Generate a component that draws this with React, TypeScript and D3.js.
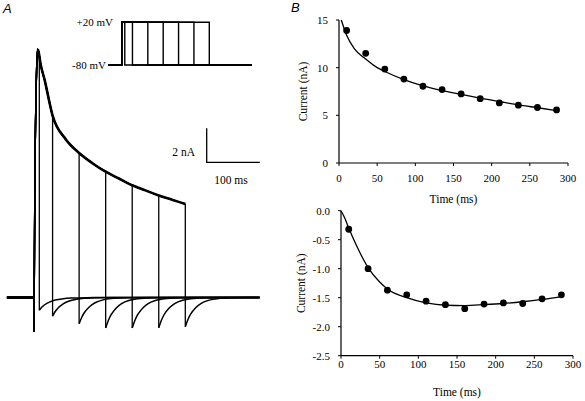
import React from "react";
import * as d3 from "d3";

// ---------- Panel A data ----------
const pulseDurations = [10, 35, 85, 135, 185, 235, 285]; // ms
const tailAmplitudes = [0.75, 1.1, 1.55, 1.8, 1.8, 1.78, 1.72]; // nA (inward tail peaks)
const envelopeTimes = [0, 1.5, 5, 7, 9, 12, 20, 35, 60, 85, 110, 135, 160, 185, 210, 235, 260, 285];
const envelopeCurrent = [-2, 6, 13.5, 14.6, 14.4, 13.8, 12.8, 10.7, 9.3, 8.5, 7.9, 7.4, 7.0, 6.6, 6.3, 6.0, 5.75, 5.5];
const tailShapeTimes = [0, 5, 10, 20, 30, 45, 60, 90, 130];
const tailShapeFraction = [1, 0.75, 0.57, 0.34, 0.2, 0.09, 0.04, 0.01, 0];

// ---------- Panel B data ----------
const sampleTimes = [10, 35, 60, 85, 110, 135, 160, 185, 210, 235, 260, 285];
const peakCurrent = [13.9, 11.5, 9.85, 8.8, 8.05, 7.7, 7.25, 6.75, 6.3, 6.07, 5.82, 5.57];
const tailCurrent = [-0.32, -1.0, -1.37, -1.45, -1.56, -1.62, -1.69, -1.61, -1.59, -1.6, -1.52, -1.45];
const peakFitTimes = [3, 10, 20, 35, 50, 60, 85, 110, 135, 160, 185, 210, 235, 260, 285];
const peakFitValues = [15, 13.4, 12.0, 10.9, 10.0, 9.6, 8.75, 8.1, 7.6, 7.2, 6.8, 6.45, 6.1, 5.8, 5.5];
const tailFitTimes = [0, 5, 10, 20, 35, 50, 60, 85, 110, 135, 160, 185, 210, 235, 260, 285];
const tailFitValues = [0, -0.13, -0.3, -0.6, -0.98, -1.23, -1.35, -1.5, -1.59, -1.63, -1.635, -1.62, -1.6, -1.57, -1.53, -1.48];
const timeTicks = [0, 50, 100, 150, 200, 250, 300];
const peakTicks = [0, 5, 10, 15];
const tailTicks = [0, -0.5, -1, -1.5, -2, -2.5];

const SERIF = "'Liberation Serif', 'DejaVu Serif', serif";
const SANS = "'Liberation Sans', Arial, sans-serif";

type Pt = [number, number];

function PanelA() {
  // current traces
  const x = d3.scaleLinear().domain([0, 285]).range([34, 185.3]);
  const y = d3.scaleLinear().domain([0, 2]).range([297.5, 263.5]);
  const lin = d3.line<Pt>().x((d) => x(d[0])).y((d) => y(d[1]));
  const smooth = d3.line<Pt>().x((d) => x(d[0])).y((d) => y(d[1])).curve(d3.curveMonotoneX);
  const env = d3.scaleLinear().domain(envelopeTimes).range(envelopeCurrent);
  const envPts: Pt[] = envelopeTimes.map((t, i) => [t, envelopeCurrent[i]]);
  const tStart = -51;
  const tEnd = 425;

  const traces = pulseDurations.map((d, i) => {
    const amp = tailAmplitudes[i];
    const pre: Pt[] = [[tStart, 0], [0, 0], [0, -2]];
    const envSeg: Pt[] = envPts.filter((p) => p[0] < d).concat([[d, env(d)]]);
    const drop: Pt[] = [[d, env(d)], [d, -amp]];
    const tail: Pt[] = tailShapeTimes.map((s, k) => [d + s, -amp * tailShapeFraction[k]] as Pt).concat([[tEnd, 0]]);
    return { pre, envSeg, drop, tail };
  });
  const envOverlay = envPts.filter((p) => p[0] >= 7);

  // voltage protocol
  const xp = d3.scaleLinear().domain([0, 285]).range([121.7, 209.3]);
  const yp = d3.scaleLinear().domain([-80, 20]).range([65, 22.3]);
  const protoPaths = pulseDurations.map((d) => {
    const pts: Pt[] = [[-44, -80], [0, -80], [0, 20], [d, 20], [d, -80], [424, -80]];
    return d3.line<Pt>().x((p) => xp(p[0])).y((p) => yp(p[1]))(pts);
  });

  // scale bar
  const sbX0 = 206.7;
  const sbY0 = 162.3;
  const sbW = x(100) - x(0);
  const sbH = y(0) - y(2);

  return (
    <g>
      <text x={3} y={13} fontFamily={SANS} fontStyle="italic" fontSize={13}>A</text>
      {protoPaths.map((p, i) => (
        <path key={i} d={p || ""} fill="none" stroke="#000" strokeWidth={1.4} />
      ))}
      <text x={113} y={26} textAnchor="end" fontFamily={SERIF} fontSize={11}>+20 mV</text>
      <text x={106} y={69} textAnchor="end" fontFamily={SERIF} fontSize={11}>-80 mV</text>

      {traces.map((t, i) => (
        <g key={i} fill="none" stroke="#000">
          <path d={lin(t.pre) || ""} strokeWidth={1.8} />
          <path d={smooth(t.envSeg.filter((p, k, a) => k === 0 || p[0] > a[k - 1][0])) || ""} strokeWidth={1.4} />
          <path d={lin(t.drop) || ""} strokeWidth={1.3} />
          <path d={smooth(t.tail) || ""} strokeWidth={1.5} />
        </g>
      ))}
      <path d={smooth(envOverlay) || ""} fill="none" stroke="#000" strokeWidth={2.6} />

      <path d={`M${sbX0},${sbY0 - sbH}V${sbY0}H${sbX0 + sbW}`} fill="none" stroke="#000" strokeWidth={1.3} />
      <text x={195} y={155.5} textAnchor="end" fontFamily={SERIF} fontSize={11.5}>2 nA</text>
      <text x={231} y={183.5} textAnchor="middle" fontFamily={SERIF} fontSize={11.5}>100 ms</text>
    </g>
  );
}

interface BProps {
  x0: number; x1: number; yTop: number; yBot: number;
  domainY: [number, number];
  ticksY: number[];
  fmt: (v: number) => string;
  values: number[];
  fitT: number[]; fitV: number[];
  ylabX: number;
  xLabOff: number;
}

function PanelB(p: BProps) {
  const x = d3.scaleLinear().domain([0, 300]).range([p.x0, p.x1]);
  const y = d3.scaleLinear().domain(p.domainY).range([p.yBot, p.yTop]);
  const fitPts: Pt[] = p.fitT.map((t, i) => [t, p.fitV[i]]);
  const fit = d3.line<Pt>().x((d) => x(d[0])).y((d) => y(d[1])).curve(d3.curveMonotoneX)(fitPts);
  const midY = (p.yTop + p.yBot) / 2;
  return (
    <g>
      <line x1={p.x0} x2={p.x0} y1={p.yTop} y2={p.yBot} stroke="#000" strokeWidth={1.2} />
      <line x1={p.x0} x2={p.x1} y1={p.yBot} y2={p.yBot} stroke="#000" strokeWidth={1.2} />
      {p.ticksY.map((v) => (
        <g key={v}>
          <line x1={p.x0 - 3} x2={p.x0} y1={y(v)} y2={y(v)} stroke="#000" strokeWidth={1} />
          <text x={p.x0 - 11} y={y(v) + 4} textAnchor="end" fontFamily={SERIF} fontSize={11}>{p.fmt(v)}</text>
        </g>
      ))}
      {timeTicks.map((v) => (
        <g key={v}>
          <line x1={x(v)} x2={x(v)} y1={p.yBot} y2={p.yBot + 3} stroke="#000" strokeWidth={1} />
          <text x={x(v)} y={p.yBot + p.xLabOff} textAnchor="middle" fontFamily={SERIF} fontSize={11}>{v}</text>
        </g>
      ))}
      <text x={(p.x0 + p.x1) / 2} y={p.yBot + 40} textAnchor="middle" fontFamily={SERIF} fontSize={11.5}>Time (ms)</text>
      <text transform={`translate(${p.ylabX},${midY}) rotate(-90)`} textAnchor="middle" fontFamily={SERIF} fontSize={11.5}>Current (nA)</text>
      <path d={fit || ""} fill="none" stroke="#000" strokeWidth={1.3} />
      {sampleTimes.map((t, i) => (
        <circle key={t} cx={x(t)} cy={y(p.values[i])} r={3.4} fill="#000" />
      ))}
    </g>
  );
}

export default function App() {
  return (
    <svg
      width={585}
      height={401}
      viewBox="0 0 585 401"
      style={{ position: "absolute", left: 0, top: 0, background: "#fff" }}
    >
      <rect width={585} height={401} fill="#fff" />
      <PanelA />
      <text x={291} y={12} fontFamily={SANS} fontStyle="italic" fontSize={13}>B</text>
      <PanelB
        x0={339} x1={568} yTop={20} yBot={163}
        domainY={[0, 15]} ticksY={peakTicks} fmt={(v) => String(v)}
        values={peakCurrent} fitT={peakFitTimes} fitV={peakFitValues}
        ylabX={307} xLabOff={19}
      />
      <PanelB
        x0={341} x1={573} yTop={210.7} yBot={355.7}
        domainY={[-2.5, 0]} ticksY={tailTicks} fmt={(v) => v.toFixed(1)}
        values={tailCurrent} fitT={tailFitTimes} fitV={tailFitValues}
        ylabX={305} xLabOff={12.5}
      />
    </svg>
  );
}
